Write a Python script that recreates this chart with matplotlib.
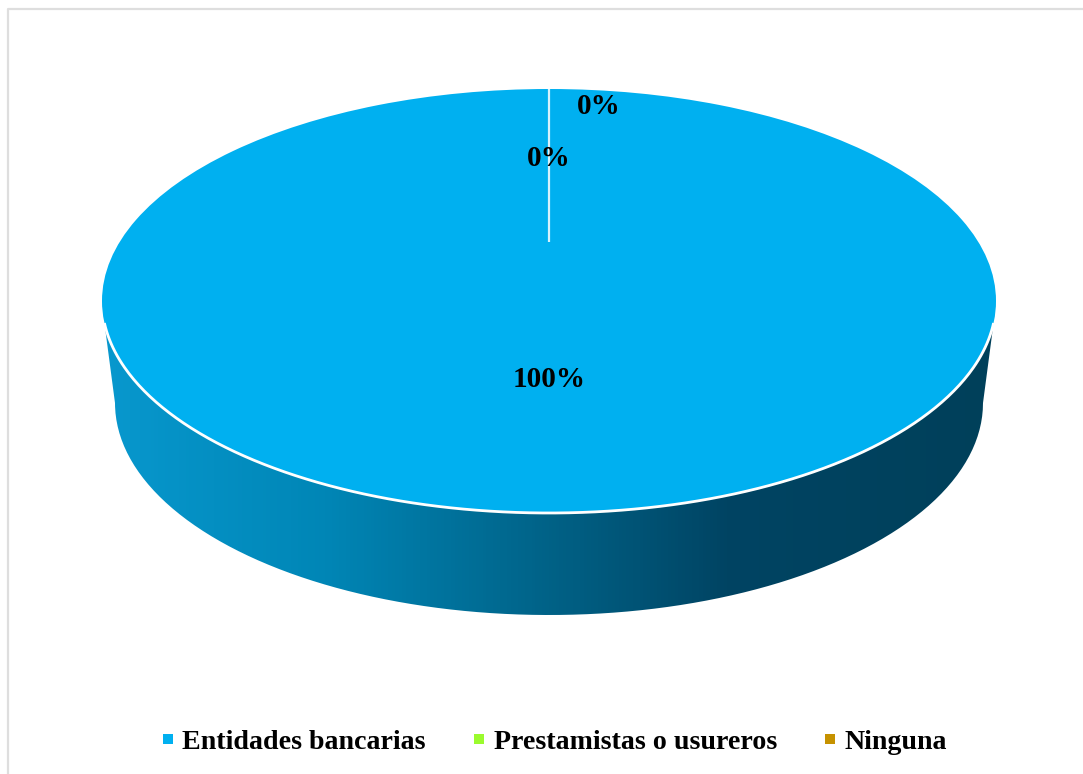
import numpy as np
import matplotlib
matplotlib.use("Agg")
import matplotlib.pyplot as plt
from matplotlib.colors import LinearSegmentedColormap
from matplotlib.lines import Line2D
from matplotlib.patches import PathPatch
from matplotlib.path import Path

categories = ["Entidades bancarias", "Prestamistas o usureros", "Ninguna"]
values = [100, 0, 0]
percent_labels = ["100%", "0%", "0%"]
colors = ["#00B0F0", "#9BFB2E", "#C69200"]

W, H = 1083, 774
cx, cy, rx, ry = 549, 301, 447, 212
plt.rcParams["font.family"] = ["Liberation Serif", "DejaVu Serif"]

fig = plt.figure(figsize=(W / 100, H / 100), dpi=100, facecolor="white")
ax = fig.add_axes([0, 0, 1, 1])

wedges, _ = ax.pie(values, colors=colors, startangle=90, counterclock=False,
                   radius=1, center=(0, 0), wedgeprops={"linewidth": 0, "edgecolor": "none"},
                   frame=True)
ax.set_aspect("auto")
ax.set_xticks([])
ax.set_yticks([])
ax.axis("off")
for w in wedges:
    w.set_zorder(3)

# side wall of the 3-D disc, filled with a horizontal gradient
bottom_cy = -(403 - cy) / ry
bottom_rx = 434 / rx
t_start = np.arcsin(22 / ry)
t_top = np.linspace(np.pi - t_start, t_start, 200)
t_bot = np.linspace(0, np.pi, 200)
wx = np.r_[np.cos(t_top), bottom_rx * np.cos(t_bot)]
wy = np.r_[-np.sin(t_top), bottom_cy - np.sin(t_bot)]
wall = PathPatch(Path(np.c_[wx, wy]), facecolor="none", edgecolor="none", transform=ax.transData)
ax.add_patch(wall)
grad_cmap = LinearSegmentedColormap.from_list(
    "wall", [(0, "#0898CE"), (0.25, "#0086B6"), (0.5, "#006287"), (0.7, "#004463"), (1, "#00405A")])
img = ax.imshow(np.linspace(0, 1, 256)[None, :], cmap=grad_cmap, aspect="auto",
                extent=(-1, 1, -2, 0.2), zorder=2)
img.set_clip_path(wall)
ax.set_xlim(-cx / rx, (W - cx) / rx)
ax.set_ylim((cy - H) / ry, cy / ry)

# white rim of the top face and the radial seam of the zero slices
t = np.linspace(np.pi + t_start, 2 * np.pi - t_start, 300)
ax.plot(np.cos(t), np.sin(t), color="white", lw=2, zorder=4, solid_capstyle="butt")
ax.plot([0, 0], [1, 0.28], color="#D8F2FC", lw=1.6, zorder=4, solid_capstyle="butt")

# percentage labels
label_px = [(549, 379), (549, 158), (599, 107)]
for (px, py), s in zip(label_px, percent_labels):
    ax.text((px - cx) / rx, (cy - py) / ry, s, ha="center", va="center",
            fontsize=21, fontweight="bold", color="black", zorder=5)

handles = [Line2D([], [], linestyle="none", marker="s", markersize=6.5, color=c, markeredgewidth=0)
           for c in colors]
fig.legend(handles, categories, ncol=3, loc="center", bbox_to_anchor=(549 / W, 1 - 742 / H),
           frameon=False, prop={"size": 20.2, "weight": "bold"}, handletextpad=-0.08,
           columnspacing=1.3, handlelength=1.2, borderpad=0)

# chart-area border: only the top and left edges are visible
fig.add_artist(Line2D([1, 7.5 / W, 7.5 / W], [1 - 8.5 / H, 1 - 8.5 / H, 0],
                      transform=fig.transFigure, color="#DEDEDE", lw=1.6))

fig.savefig("out.png", dpi=100)
